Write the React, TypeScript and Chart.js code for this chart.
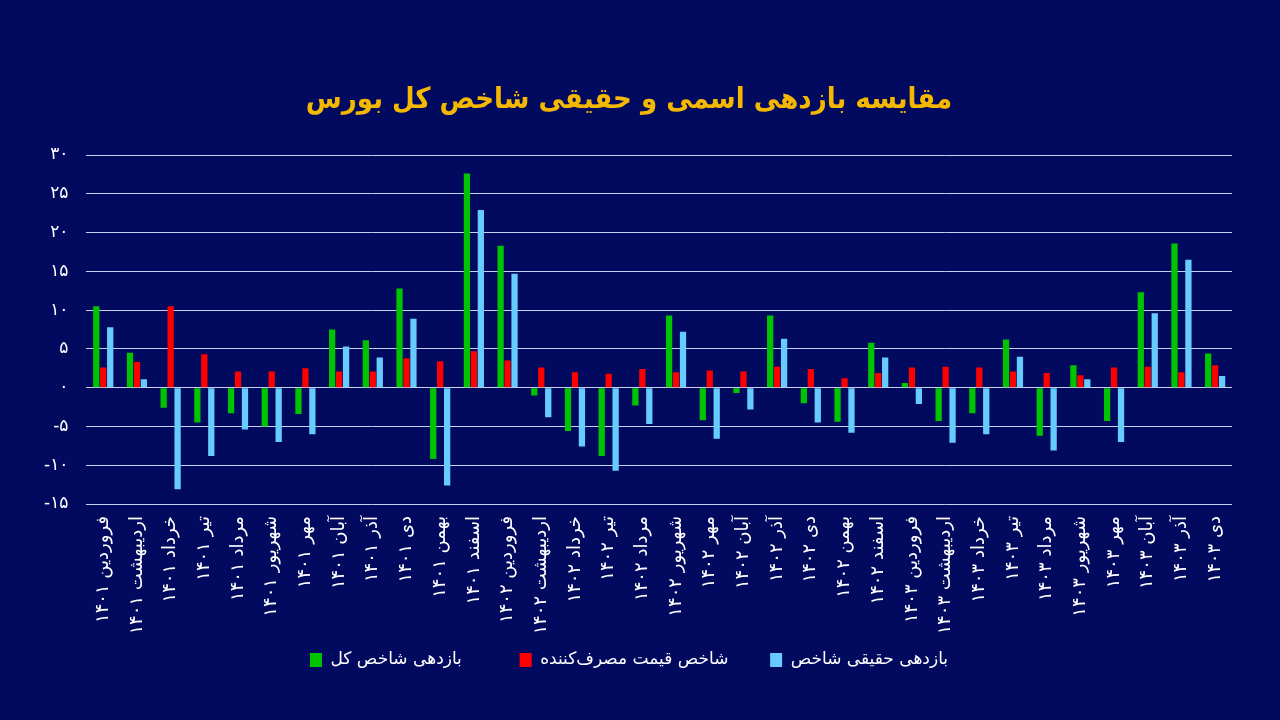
import React, { useEffect, useRef } from "react";
import { Chart, registerables } from "chart.js";

Chart.register(...registerables);

const toFa = (s: string | number) =>
  String(s).replace(/\d/g, (d) => "۰۱۲۳۴۵۶۷۸۹"[Number(d)]);

const categories = [
  "فروردین ۱۴۰۱", "اردیبهشت ۱۴۰۱", "خرداد ۱۴۰۱", "تیر ۱۴۰۱", "مرداد ۱۴۰۱", "شهریور ۱۴۰۱",
  "مهر ۱۴۰۱", "آبان ۱۴۰۱", "آذر ۱۴۰۱", "دی ۱۴۰۱", "بهمن ۱۴۰۱", "اسفند ۱۴۰۱",
  "فروردین ۱۴۰۲", "اردیبهشت ۱۴۰۲", "خرداد ۱۴۰۲", "تیر ۱۴۰۲", "مرداد ۱۴۰۲", "شهریور ۱۴۰۲",
  "مهر ۱۴۰۲", "آبان ۱۴۰۲", "آذر ۱۴۰۲", "دی ۱۴۰۲", "بهمن ۱۴۰۲", "اسفند ۱۴۰۲",
  "فروردین ۱۴۰۳", "اردیبهشت ۱۴۰۳", "خرداد ۱۴۰۳", "تیر ۱۴۰۳", "مرداد ۱۴۰۳", "شهریور ۱۴۰۳",
  "مهر ۱۴۰۳", "آبان ۱۴۰۳", "آذر ۱۴۰۳", "دی ۱۴۰۳",
];

const totalIndexReturn = [
  10.5, 4.5, -2.6, -4.5, -3.3, -5.0, -3.4, 7.5, 6.1, 12.8, -9.2, 27.6,
  18.3, -1.0, -5.6, -8.8, -2.3, 9.3, -4.2, -0.7, 9.3, -2.0, -4.4, 5.8,
  0.6, -4.3, -3.3, 6.2, -6.2, 2.9, -4.3, 12.3, 18.6, 4.4,
];

const cpiChange = [
  2.6, 3.3, 10.5, 4.3, 2.1, 2.1, 2.5, 2.1, 2.1, 3.8, 3.4, 4.7,
  3.5, 2.6, 2.0, 1.8, 2.4, 2.0, 2.2, 2.1, 2.7, 2.4, 1.2, 1.9,
  2.6, 2.7, 2.6, 2.1, 1.9, 1.6, 2.6, 2.7, 2.0, 2.9,
];

const realReturn = [
  7.8, 1.1, -13.1, -8.8, -5.4, -7.0, -6.0, 5.3, 3.9, 8.9, -12.6, 22.9,
  14.7, -3.8, -7.6, -10.7, -4.7, 7.2, -6.6, -2.8, 6.3, -4.5, -5.8, 3.9,
  -2.1, -7.1, -6.0, 4.0, -8.1, 1.1, -7.0, 9.6, 16.5, 1.5,
];

const seriesNames = ["بازدهی شاخص کل", "شاخص قیمت مصرف‌کننده", "بازدهی حقیقی شاخص"];
const titleText = "مقایسه بازدهی اسمی و حقیقی شاخص کل بورس";

const FONT = "'DejaVu Sans', sans-serif";
const TITLE_FONT = "'DejaVu Sans Condensed', 'DejaVu Sans', sans-serif";
const legendTrail = ["\u00A0".repeat(7), "\u00A0".repeat(4), ""];

export default function App() {
  const ref = useRef<HTMLCanvasElement | null>(null);

  useEffect(() => {
    if (!ref.current) return;
    const mk = (label: string, data: number[], color: string) => ({
      label,
      data,
      backgroundColor: color,
      borderWidth: 0,
      categoryPercentage: 0.62,
      barPercentage: 0.9,
    });
    const defaultGen = (Chart as any).defaults.plugins.legend.labels.generateLabels;
    const chart = new Chart(ref.current, {
      type: "bar",
      data: {
        labels: categories,
        datasets: [
          mk(seriesNames[0], totalIndexReturn, "#00c400"),
          mk(seriesNames[1], cpiChange, "#ff0000"),
          mk(seriesNames[2], realReturn, "#66ccff"),
        ],
      },
      options: {
        responsive: false,
        animation: false,
        maintainAspectRatio: false,
        layout: { padding: { left: 26, right: 48, top: 0, bottom: 41.5 } },
        plugins: {
          title: {
            display: true,
            text: titleText,
            color: "#f5b800",
            font: { family: TITLE_FONT, size: 29, weight: "bold" },
            padding: { top: 83, bottom: 37.2 },
          },
          legend: {
            position: "bottom",
            labels: {
              color: "#ffffff",
              font: { family: FONT, size: 17 },
              boxWidth: 12,
              boxHeight: 14,
              padding: 20,
              generateLabels: (c: any) =>
                defaultGen(c).map((it: any, i: number) => ({
                  ...it,
                  text: it.text + (legendTrail[i] || ""),
                })),
            },
          },
          tooltip: { enabled: false },
        },
        scales: {
          x: {
            grid: { display: false },
            border: { display: false },
            ticks: {
              color: "#ffffff",
              font: { family: FONT, size: 18 },
              maxRotation: 90,
              minRotation: 90,
              autoSkip: true,
              autoSkipPadding: 0,
              padding: 4,
            },
            afterFit: (scale: any) => {
              scale.height = 127.5;
            },
          },
          y: {
            min: -15,
            max: 30,
            border: { display: false },
            grid: { color: "#c9cff0", lineWidth: 1, drawTicks: false },
            ticks: {
              stepSize: 5,
              color: "#ffffff",
              font: { family: FONT, size: 17 },
              padding: 18,
              callback: (v: any) => toFa(v),
            },
          },
        },
      },
    });
    return () => chart.destroy();
  }, []);

  return (
    <div
      style={{
        position: "fixed",
        left: 0,
        top: 0,
        width: 1280,
        height: 720,
        background: "#020a5f",
      }}
    >
      <canvas ref={ref} width={1280} height={720} style={{ width: 1280, height: 720 }} />
    </div>
  );
}
